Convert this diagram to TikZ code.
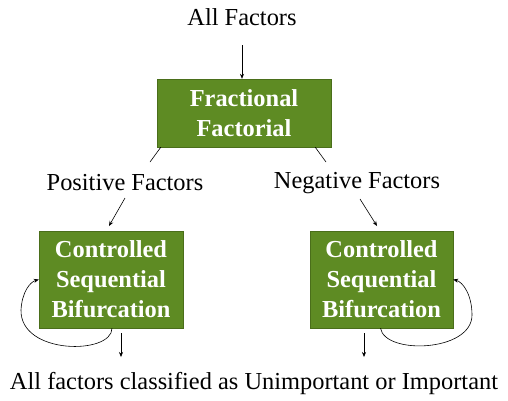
\documentclass[tikz,border=0pt]{standalone}
\usepackage{fontspec}
\setmainfont{Liberation Serif}
\usetikzlibrary{arrows.meta}
\definecolor{boxgreen}{HTML}{5E8B23}
\definecolor{boxedge}{HTML}{4A6E1A}
\begin{document}
\begin{tikzpicture}[x=1bp,y=-1bp,
  gbox/.style={draw=boxedge,fill=boxgreen,text=white,font=\fontsize{24.5}{30}\selectfont\bfseries,align=center,inner sep=0pt},
  lbl/.style={font=\fontsize{24.5}{28}\selectfont,inner sep=0pt},
  arr/.style={-{Stealth[length=5bp,width=4bp]},line width=0.6bp},
  ln/.style={line width=0.6bp}]
\useasboundingbox (0,0) rectangle (508,400);
\node[lbl] (all) at (242,17) {All Factors};
\node[gbox,minimum width=174bp,minimum height=68bp] (ff) at (244,113) {Fractional\\Factorial};
\node[lbl] (pos) at (125,183) {Positive Factors};
\node[lbl] (neg) at (357,183) {Negative Factors};
\node[gbox,minimum width=144bp,minimum height=97bp] (csbl) at (111,279.5) {Controlled\\Sequential\\Bifurcation};
\node[gbox,minimum width=143bp,minimum height=97bp] (csbr) at (381.5,279.5) {Controlled\\Sequential\\Bifurcation};
\node[lbl] (out) at (254,383) {All factors classified as Unimportant or Important};
\coordinate (a1) at (242,45);
\draw[arr] (a1) -- (ff.north -| a1);
\coordinate (p1) at (150,162);
\coordinate (n1) at (326,162);
\draw[ln] ([xshift=4bp]ff.south west) -- (p1);
\draw[ln] ([xshift=-16bp]ff.south east) -- (n1);
\coordinate (p2) at (125,198);
\coordinate (p3) at (109,226);
\draw[arr] (p2) -- (p3);
\coordinate (n2) at (360,199);
\coordinate (n3) at (377,226);
\draw[arr] (n2) -- (n3);
\coordinate (dl) at (121,333);
\coordinate (dle) at (121,357);
\draw[arr] (dl) -- (dle);
\coordinate (dr) at (364,333);
\coordinate (dre) at (364,357);
\draw[arr] (dr) -- (dre);
\draw[arr] ([xshift=1bp]csbl.south) .. controls (112,355) and (20,355) .. (21,310) .. controls (22,292) and (30,282) .. (csbl.west);
\draw[arr] ([xshift=-1bp]csbr.south) .. controls (385,355) and (472,352) .. (472,315) .. controls (472,295) and (463,282) .. (csbr.east);
\end{tikzpicture}
\end{document}
